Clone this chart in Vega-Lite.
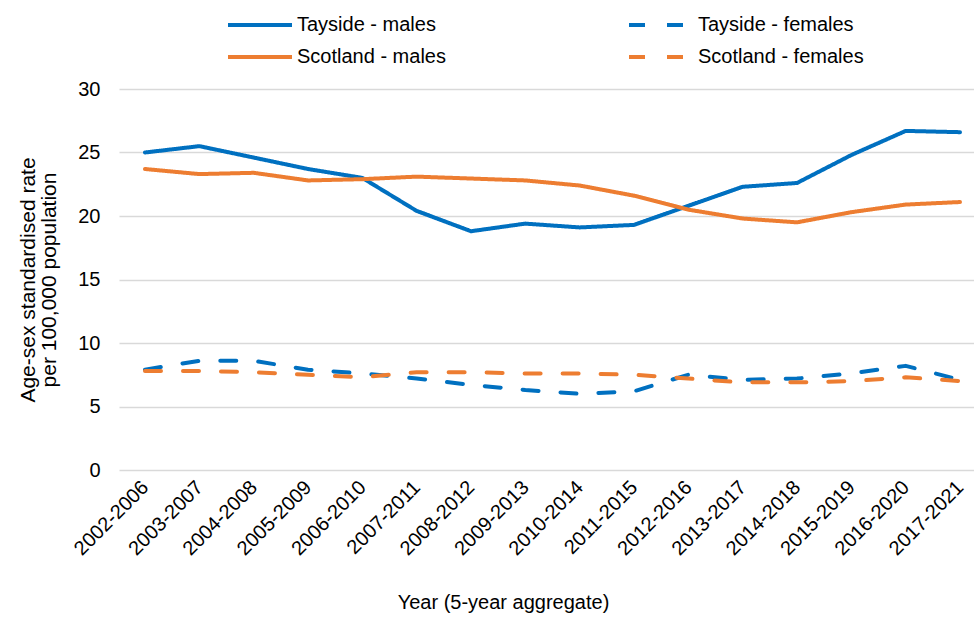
{
  "$schema": "https://vega.github.io/schema/vega-lite/v6.json",
  "autosize": {"type": "none"},
  "padding": {"left": 119, "top": 89, "right": 0, "bottom": 147},
  "width": 855,
  "height": 381,
  "background": "white",
  "data": {"values": [
    {"year": "2002-2006", "series": "Tayside - males", "value": 25.0},
    {"year": "2003-2007", "series": "Tayside - males", "value": 25.5},
    {"year": "2004-2008", "series": "Tayside - males", "value": 24.6},
    {"year": "2005-2009", "series": "Tayside - males", "value": 23.7},
    {"year": "2006-2010", "series": "Tayside - males", "value": 23.0},
    {"year": "2007-2011", "series": "Tayside - males", "value": 20.4},
    {"year": "2008-2012", "series": "Tayside - males", "value": 18.8},
    {"year": "2009-2013", "series": "Tayside - males", "value": 19.4},
    {"year": "2010-2014", "series": "Tayside - males", "value": 19.1},
    {"year": "2011-2015", "series": "Tayside - males", "value": 19.3},
    {"year": "2012-2016", "series": "Tayside - males", "value": 20.8},
    {"year": "2013-2017", "series": "Tayside - males", "value": 22.3},
    {"year": "2014-2018", "series": "Tayside - males", "value": 22.6},
    {"year": "2015-2019", "series": "Tayside - males", "value": 24.8},
    {"year": "2016-2020", "series": "Tayside - males", "value": 26.7},
    {"year": "2017-2021", "series": "Tayside - males", "value": 26.6},
    {"year": "2002-2006", "series": "Tayside - females", "value": 7.9},
    {"year": "2003-2007", "series": "Tayside - females", "value": 8.6},
    {"year": "2004-2008", "series": "Tayside - females", "value": 8.6},
    {"year": "2005-2009", "series": "Tayside - females", "value": 7.9},
    {"year": "2006-2010", "series": "Tayside - females", "value": 7.6},
    {"year": "2007-2011", "series": "Tayside - females", "value": 7.2},
    {"year": "2008-2012", "series": "Tayside - females", "value": 6.7},
    {"year": "2009-2013", "series": "Tayside - females", "value": 6.3},
    {"year": "2010-2014", "series": "Tayside - females", "value": 6.0},
    {"year": "2011-2015", "series": "Tayside - females", "value": 6.2},
    {"year": "2012-2016", "series": "Tayside - females", "value": 7.5},
    {"year": "2013-2017", "series": "Tayside - females", "value": 7.1},
    {"year": "2014-2018", "series": "Tayside - females", "value": 7.2},
    {"year": "2015-2019", "series": "Tayside - females", "value": 7.6},
    {"year": "2016-2020", "series": "Tayside - females", "value": 8.2},
    {"year": "2017-2021", "series": "Tayside - females", "value": 7.1},
    {"year": "2002-2006", "series": "Scotland - males", "value": 23.7},
    {"year": "2003-2007", "series": "Scotland - males", "value": 23.3},
    {"year": "2004-2008", "series": "Scotland - males", "value": 23.4},
    {"year": "2005-2009", "series": "Scotland - males", "value": 22.8},
    {"year": "2006-2010", "series": "Scotland - males", "value": 22.9},
    {"year": "2007-2011", "series": "Scotland - males", "value": 23.1},
    {"year": "2008-2012", "series": "Scotland - males", "value": 22.95},
    {"year": "2009-2013", "series": "Scotland - males", "value": 22.8},
    {"year": "2010-2014", "series": "Scotland - males", "value": 22.4},
    {"year": "2011-2015", "series": "Scotland - males", "value": 21.6},
    {"year": "2012-2016", "series": "Scotland - males", "value": 20.5},
    {"year": "2013-2017", "series": "Scotland - males", "value": 19.8},
    {"year": "2014-2018", "series": "Scotland - males", "value": 19.5},
    {"year": "2015-2019", "series": "Scotland - males", "value": 20.3},
    {"year": "2016-2020", "series": "Scotland - males", "value": 20.9},
    {"year": "2017-2021", "series": "Scotland - males", "value": 21.1},
    {"year": "2002-2006", "series": "Scotland - females", "value": 7.8},
    {"year": "2003-2007", "series": "Scotland - females", "value": 7.8},
    {"year": "2004-2008", "series": "Scotland - females", "value": 7.7},
    {"year": "2005-2009", "series": "Scotland - females", "value": 7.5},
    {"year": "2006-2010", "series": "Scotland - females", "value": 7.3},
    {"year": "2007-2011", "series": "Scotland - females", "value": 7.7},
    {"year": "2008-2012", "series": "Scotland - females", "value": 7.7},
    {"year": "2009-2013", "series": "Scotland - females", "value": 7.6},
    {"year": "2010-2014", "series": "Scotland - females", "value": 7.6},
    {"year": "2011-2015", "series": "Scotland - females", "value": 7.5},
    {"year": "2012-2016", "series": "Scotland - females", "value": 7.2},
    {"year": "2013-2017", "series": "Scotland - females", "value": 6.9},
    {"year": "2014-2018", "series": "Scotland - females", "value": 6.9},
    {"year": "2015-2019", "series": "Scotland - females", "value": 7.0},
    {"year": "2016-2020", "series": "Scotland - females", "value": 7.3},
    {"year": "2017-2021", "series": "Scotland - females", "value": 7.0}
  ]},
  "mark": {"type": "line", "strokeWidth": 4, "strokeCap": "round", "strokeJoin": "round"},
  "encoding": {
    "x": {
      "field": "year", "type": "ordinal", "sort": null,
      "scale": {"type": "point", "padding": 0.368, "align": 0.65},
      "axis": {
        "title": "Year (5-year aggregate)",
        "titleX": 384, "titleY": 122, "titleAlign": "center", "titleBaseline": "top",
        "labelAngle": -45, "labelAlign": "right", "labelBaseline": "middle",
        "labelPadding": 14, "ticks": false, "domain": false, "grid": false
      }
    },
    "y": {
      "field": "value", "type": "quantitative",
      "scale": {"domain": [0, 30], "nice": false},
      "axis": {
        "title": ["Age-sex standardised rate", "per 100,000 population"],
        "titleFontSize": 21, "titleLineHeight": 21, "titlePadding": 18,
        "values": [0, 5, 10, 15, 20, 25, 30],
        "labelPadding": 19, "ticks": false, "domain": false,
        "grid": true, "gridColor": "#d9d9d9", "gridWidth": 1.5
      }
    },
    "color": {
      "field": "series", "type": "nominal", "title": null,
      "scale": {
        "domain": ["Tayside - males", "Tayside - females", "Scotland - males", "Scotland - females"],
        "range": ["#0070C0", "#0070C0", "#ED7D31", "#ED7D31"]
      }
    },
    "strokeDash": {
      "field": "series", "type": "nominal", "title": null,
      "scale": {
        "domain": ["Tayside - males", "Tayside - females", "Scotland - males", "Scotland - females"],
        "range": [[1, 0], [16, 22], [1, 0], [16, 22]]
      }
    }
  },
  "config": {
    "view": {"stroke": null},
    "font": "Liberation Sans",
    "axis": {
      "labelFont": "Liberation Sans", "labelFontSize": 20, "labelColor": "#000000",
      "titleFont": "Liberation Sans", "titleFontSize": 20, "titleColor": "#000000", "titleFontWeight": "normal"
    },
    "legend": {
      "orient": "none", "legendX": 131, "legendY": -74,
      "direction": "horizontal", "columns": 2, "columnPadding": 175, "rowPadding": 12,
      "symbolType": "M-4,0H4", "symbolSize": 256, "symbolStrokeWidth": 4,
      "labelFont": "Liberation Sans", "labelFontSize": 20, "labelColor": "#000000", "labelOffset": 27,
      "labelLimit": 400
    }
  }
}
